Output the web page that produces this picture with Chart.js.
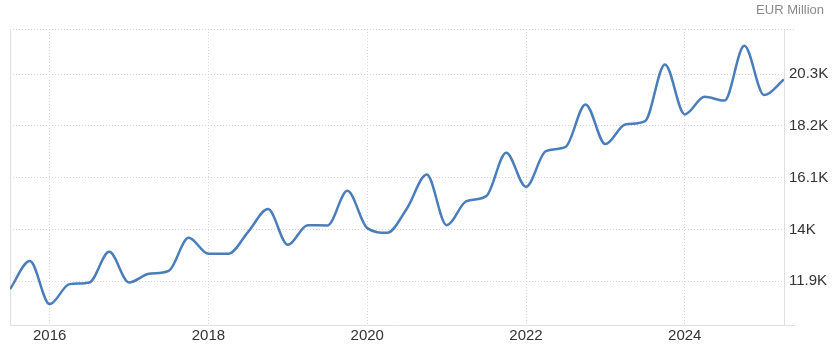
<!DOCTYPE html>
<html>
<head>
<meta charset="utf-8">
<script src="https://cdn.jsdelivr.net/npm/chart.js@4"></script>
<style>
  html, body { margin: 0; padding: 0; background: #fff; }
  #wrap { width: 835px; height: 346px; }
</style>
</head>
<body>
<div id="wrap"><canvas id="c" width="835" height="346"></canvas></div>
<script>
// Quarterly periods
const periods = [
  '2015-Q3','2015-Q4','2016-Q1','2016-Q2','2016-Q3','2016-Q4',
  '2017-Q1','2017-Q2','2017-Q3','2017-Q4',
  '2018-Q1','2018-Q2','2018-Q3','2018-Q4',
  '2019-Q1','2019-Q2','2019-Q3','2019-Q4',
  '2020-Q1','2020-Q2','2020-Q3','2020-Q4',
  '2021-Q1','2021-Q2','2021-Q3','2021-Q4',
  '2022-Q1','2022-Q2','2022-Q3','2022-Q4',
  '2023-Q1','2023-Q2','2023-Q3','2023-Q4',
  '2024-Q1','2024-Q2','2024-Q3','2024-Q4',
  '2025-Q1','2025-Q2'
];
// Values, EUR Million
const values = [
  11575, 12712, 10967, 11778, 11847, 13089,
  11847, 12196, 12318, 13657,
  13008, 13008, 13901, 14822,
  13373, 14172, 14160, 15564,
  14051, 13860, 14850, 16230,
  14172, 15146, 15349, 17106,
  15727, 17175, 17350, 19071,
  17459, 18251, 18393, 20694,
  18665, 19379, 19225, 21448,
  19448, 20085
];
const xTicks = [2016, 2018, 2020, 2022, 2024];
const yTicks = [11900, 14000, 16100, 18200, 20300];
const yTickLabels = ['11.9K', '14K', '16.1K', '18.2K', '20.3K'];
const unitLabel = 'EUR Million';

function periodToX(p) {
  const [y, q] = p.split('-Q');
  return Number(y) + (Number(q) - 1) * 0.25;
}
const points = periods.map((p, i) => ({ x: periodToX(p), y: values[i] }));

const FONT = '"Liberation Sans", Arial, sans-serif';
const GRID = '#d6d6d6';
const AXIS = '#e0e0e0';

const framePlugin = {
  id: 'frame',
  beforeDatasetsDraw(chart) {
    const { ctx, chartArea: a } = chart;
    ctx.save();
    ctx.strokeStyle = GRID;
    ctx.lineWidth = 1;
    ctx.setLineDash([1, 2]);
    ctx.beginPath();
    ctx.moveTo(a.left, a.top + 0.5);
    ctx.lineTo(a.right + 11, a.top + 0.5);
    ctx.stroke();
    ctx.setLineDash([]);
    ctx.strokeStyle = AXIS;
    ctx.beginPath();
    ctx.moveTo(a.left + 0.5, a.top);
    ctx.lineTo(a.left + 0.5, a.bottom);
    ctx.moveTo(a.right, a.bottom + 0.5);
    ctx.lineTo(a.right + 11, a.bottom + 0.5);
    ctx.stroke();
    ctx.restore();
  },
  afterDraw(chart) {
    const { ctx } = chart;
    ctx.save();
    ctx.font = '13px ' + FONT;
    ctx.fillStyle = '#8a8a8a';
    ctx.textAlign = 'right';
    ctx.textBaseline = 'middle';
    ctx.fillText(unitLabel, 824, 10);
    ctx.restore();
  }
};

new Chart(document.getElementById('c'), {
  type: 'line',
  data: {
    datasets: [{
      data: points,
      borderColor: '#4a7ebb',
      borderWidth: 2.5,
      pointRadius: 0,
      pointHoverRadius: 0,
      fill: false,
      cubicInterpolationMode: 'monotone'
    }]
  },
  options: {
    responsive: false,
    animation: false,
    events: [],
    layout: { padding: { left: 10, top: 29, right: 0, bottom: 0 } },
    plugins: { legend: { display: false }, tooltip: { enabled: false } },
    scales: {
      x: {
        type: 'linear',
        min: 2015.5,
        max: 2025.25,
        afterBuildTicks(s) { s.ticks = xTicks.map(v => ({ value: v })); },
        afterFit(s) { s.height = 21; },
        ticks: {
          callback: v => String(v),
          color: '#333',
          font: { family: FONT, size: 15 },
          padding: 2,
          maxRotation: 0,
          autoSkip: false
        },
        grid: { color: GRID, drawTicks: false, lineWidth: 1 },
        border: { color: AXIS, dash: [1, 2], width: 1 }
      },
      y: {
        type: 'linear',
        position: 'right',
        min: 10120,
        max: 22130,
        afterBuildTicks(s) { s.ticks = yTicks.map(v => ({ value: v })); },
        afterFit(s) { s.width = 51; },
        ticks: {
          callback: (v) => yTickLabels[yTicks.indexOf(v)],
          color: '#333',
          font: { family: FONT, size: 15 },
          padding: 5
        },
        grid: { color: GRID, drawTicks: false, lineWidth: 1 },
        border: { color: AXIS, dash: [1, 2], width: 1 }
      }
    }
  },
  plugins: [framePlugin]
});
</script>
</body>
</html>
